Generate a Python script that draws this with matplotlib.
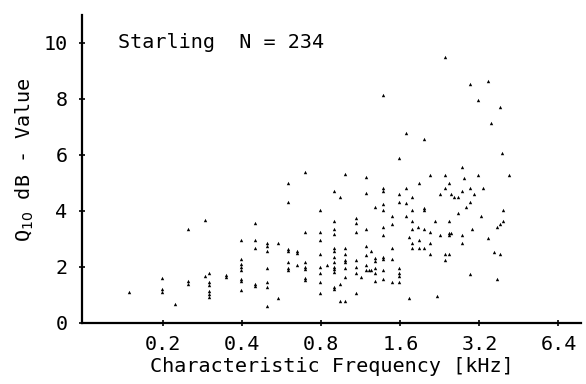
import matplotlib
matplotlib.use("Agg")
import matplotlib.pyplot as plt
from matplotlib.ticker import FixedLocator, FixedFormatter, NullLocator

# Characteristic frequency (kHz) and Q10dB values
cf = [
    0.148, 0.198, 0.198, 0.198, 0.222, 0.248, 0.248, 0.248, 0.287, 0.287,
    0.298, 0.298, 0.298, 0.298, 0.298, 0.298, 0.346, 0.346,
    0.396, 0.396, 0.396, 0.396, 0.396, 0.396, 0.396, 0.396,
    0.446, 0.446, 0.446, 0.446, 0.446,
    0.497, 0.497, 0.497, 0.497, 0.497, 0.497, 0.497,
    0.546, 0.546,
    0.597, 0.597, 0.597, 0.597, 0.597, 0.597, 0.597,
    0.646, 0.646, 0.646,
    0.692, 0.692, 0.692, 0.692, 0.692, 0.692, 0.692,
    0.793, 0.793, 0.793, 0.793, 0.793, 0.793, 0.793, 0.793,
    0.841,
    0.891, 0.891, 0.891, 0.891, 0.891, 0.891, 0.891, 0.891, 0.891, 0.891, 0.891, 0.891, 0.891,
    0.940, 0.940, 0.940,
    0.988, 0.988, 0.988, 0.988, 0.988, 0.988, 0.988, 0.988,
    1.088, 1.088, 1.088, 1.088, 1.088, 1.088, 1.088,
    1.136,
    1.184, 1.184, 1.184, 1.184, 1.184, 1.184, 1.184, 1.212, 1.241, 1.240,
    1.285, 1.285, 1.285, 1.285, 1.285, 1.285,
    1.378, 1.378, 1.378, 1.378, 1.378, 1.378, 1.378, 1.378, 1.378, 1.378, 1.378,
    1.488, 1.488, 1.488, 1.488, 1.488,
    1.576, 1.576, 1.576, 1.576, 1.576, 1.576, 1.576,
    1.682, 1.682, 1.682, 1.682,
    1.731, 1.731,
    1.773, 1.773, 1.773, 1.773, 1.773, 1.773,
    1.869, 1.879, 1.879, 1.879,
    1.963, 1.963, 1.963, 1.963, 1.963,
    2.069, 2.069, 2.069, 2.069,
    2.162, 2.208, 2.258, 2.258,
    2.360, 2.360, 2.360, 2.360, 2.375,
    2.444, 2.444, 2.444, 2.444, 2.444, 2.504, 2.504, 2.554, 2.654, 2.654,
    2.749, 2.749, 2.749, 2.749, 2.805, 2.855, 2.939, 2.957, 2.957, 2.957,
    3.002, 3.044, 3.152, 3.152, 3.243, 3.295, 3.441, 3.441, 3.546, 3.628,
    3.738, 3.738, 3.824, 3.824, 3.848, 3.906, 3.930, 3.930, 4.138,
]
q10 = [
    1.12, 1.60, 1.21, 1.11, 0.67, 3.36, 1.50, 1.38, 3.67, 1.69,
    1.78, 1.46, 1.36, 1.14, 1.04, 0.93, 1.71, 1.63,
    2.96, 2.29, 2.10, 2.00, 1.89, 1.56, 1.50, 1.18,
    3.56, 2.96, 2.67, 1.38, 1.32,
    2.85, 2.76, 2.57, 1.98, 1.48, 1.30, 0.62,
    2.87, 0.90,
    5.01, 4.33, 2.64, 2.57, 2.17, 1.98, 1.89,
    2.57, 2.49, 2.07,
    5.40, 3.26, 2.17, 2.01, 1.92, 1.60, 1.54,
    4.04, 3.26, 2.96, 2.46, 1.99, 1.78, 1.48, 1.08,
    2.07,
    4.71, 3.64, 3.36, 3.17, 2.67, 2.58, 2.37, 2.19, 1.99, 1.92, 1.83, 1.30, 1.21,
    4.51, 1.38, 0.80,
    5.32, 2.67, 2.46, 2.25, 2.17, 1.95, 1.63, 0.80,
    3.74, 3.56, 3.26, 2.25, 1.99, 1.78, 1.08,
    1.65,
    5.20, 4.63, 3.35, 2.76, 2.43, 2.07, 1.89, 1.89, 1.89, 2.58,
    4.13, 2.31, 2.23, 1.95, 1.78, 1.50,
    8.14, 4.81, 4.71, 4.24, 4.04, 3.44, 3.16, 2.36, 2.27, 1.88, 1.57,
    3.83, 3.54, 2.69, 2.28, 1.45,
    5.88, 4.61, 4.33, 1.98, 1.78, 1.69, 1.45,
    6.77, 4.81, 4.28, 3.83,
    3.06, 0.88,
    4.51, 4.04, 3.64, 3.35, 2.85, 2.67,
    3.44, 5.01, 2.96, 2.67,
    6.57, 4.12, 4.04, 3.35, 2.67,
    5.29, 3.24, 2.85, 2.45,
    3.64, 0.98, 4.61, 3.14,
    5.29, 4.81, 2.45, 2.25, 9.51,
    4.99, 3.64, 3.23, 3.14, 2.45, 3.23, 4.61, 4.51, 4.51, 3.92,
    5.58, 4.71, 3.14, 2.85, 5.19, 4.13, 1.75, 8.54, 4.81, 4.33,
    3.35, 4.61, 5.29, 7.96, 3.83, 4.81, 8.63, 3.05, 7.15, 2.55,
    3.44, 1.56, 3.54, 2.45, 7.73, 6.08, 4.04, 3.64, 5.29,
]

xticks = [0.2, 0.4, 0.8, 1.6, 3.2, 6.4]
xtick_labels = ["0.2", "0.4", "0.8", "1.6", "3.2", "6.4"]
yticks = [0, 2, 4, 6, 8, 10]
ytick_labels = ["0", "2", "4", "6", "8", "10"]

FONT = "DejaVu Sans Mono"
FS = 14.5

fig = plt.figure(figsize=(5.86, 3.84), dpi=100)
ax = fig.add_axes([82 / 586, 1 - 323 / 384, (581 - 82) / 586, 308 / 384])

ax.scatter(cf, q10, marker="^", s=6, color="black", linewidths=0, zorder=3)

ax.set_xscale("log")
ax.set_xlim(0.098, 7.8)
ax.set_ylim(0, 11)

ax.xaxis.set_major_locator(FixedLocator(xticks))
ax.xaxis.set_major_formatter(FixedFormatter(xtick_labels))
ax.xaxis.set_minor_locator(NullLocator())
ax.set_yticks(yticks)
ax.set_yticklabels(ytick_labels)

for s in ["top", "right"]:
    ax.spines[s].set_visible(False)
for s in ["left", "bottom"]:
    ax.spines[s].set_linewidth(1.6)
    ax.spines[s].set_color("black")

ax.tick_params(axis="both", direction="inout", length=5, width=1.2, color="black")
ax.tick_params(axis="x", pad=6)
ax.tick_params(axis="y", pad=8)
for lab in ax.get_xticklabels() + ax.get_yticklabels():
    lab.set_fontfamily(FONT)
    lab.set_fontsize(FS)

ax.set_xlabel("Characteristic Frequency [kHz]", fontfamily=FONT, fontsize=FS, labelpad=2)
ax.set_ylabel(r"Q$_{10}$ dB - Value", fontfamily=FONT, fontsize=FS)
ax.yaxis.set_label_coords(-0.092, 0.53)

ax.text(0.072, 0.912, "Starling  N = 234", transform=ax.transAxes,
        fontfamily=FONT, fontsize=FS, ha="left", va="center")

fig.savefig("out.png", dpi=100)
